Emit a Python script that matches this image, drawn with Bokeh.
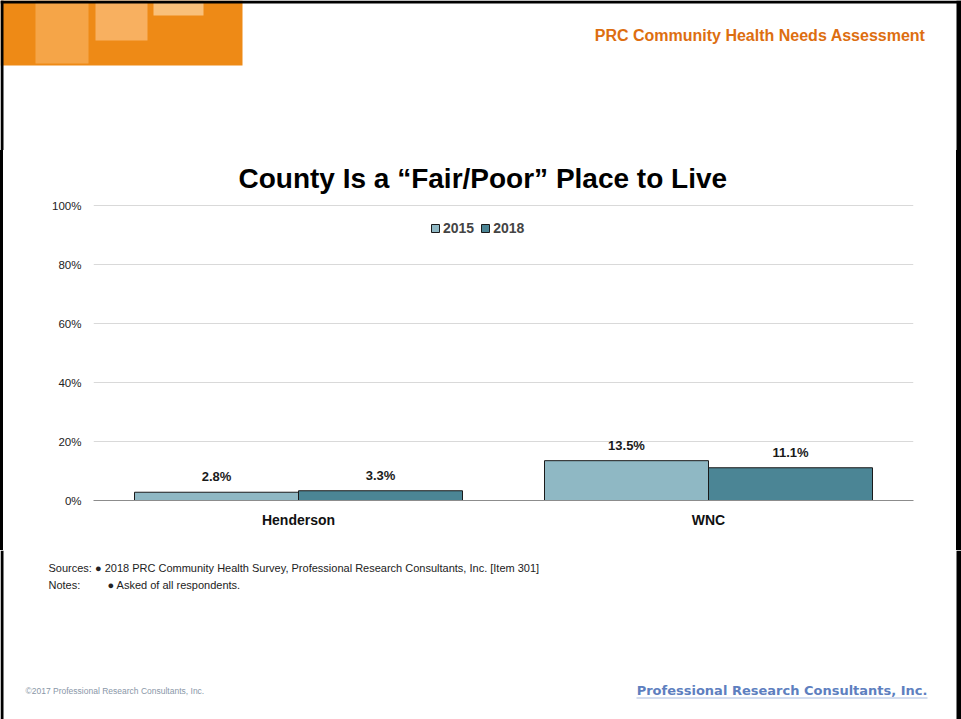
from bokeh.plotting import figure
from bokeh.layouts import column, row
from bokeh.models import (ColumnDataSource, LabelSet, Legend, LegendItem, Range1d,
                          FixedTicker, CustomJSTickFormatter)
from bokeh.core.properties import value
from bokeh.transform import dodge
from bokeh.embed import file_html
from bokeh.resources import INLINE

# ---- data ----
categories = ["Henderson", "WNC"]
series_names = ["2015", "2018"]
values_2015 = [2.8, 13.5]
values_2018 = [3.3, 11.1]
y_ticks = [0, 20, 40, 60, 80, 100]

title_text = "County Is a \u201cFair/Poor\u201d Place to Live"
header_text = "PRC Community Health Needs Assessment"
sources_text = "Sources: \u25cf 2018 PRC Community Health Survey, Professional Research Consultants, Inc. [Item 301]"
notes_label = "Notes:"
notes_text = "\u25cf Asked of all respondents."
footer_left = "\u00a92017 Professional Research Consultants, Inc."
footer_right = "Professional Research Consultants, Inc."

FONT = "Liberation Sans"
C2015 = "#8FB8C4"
C2018 = "#4B8595"
W = 961
H_TOP, H_CHART, H_BOT = 150, 400, 169
EDGE_L, EDGE_R = 3, 5


def decor_fig(w, h):
    f = figure(width=w, height=h, x_range=Range1d(0, w), y_range=Range1d(h, 0),
               output_backend="svg", toolbar_location=None, min_border=0,
               x_axis_location=None, y_axis_location=None)
    f.grid.visible = False
    f.outline_line_color = None
    f.background_fill_alpha = 0
    f.border_fill_alpha = 0
    return f


def edge_strip(w, h):
    f = decor_fig(w, h)
    f.background_fill_color = "#000000"
    f.background_fill_alpha = 1
    f.border_fill_color = "#000000"
    f.border_fill_alpha = 1
    return column(f)


# ---- header ----
top = decor_fig(W, H_TOP)
top.quad(left=[0, 35, 95, 153], right=[242, 88, 147, 203],
         top=[0, 0, 0, 0], bottom=[65, 63, 40, 15],
         fill_color=["#EE8A16", "#F5A548", "#F8B060", "#F9C07A"], line_color=None)
# page frame edges
top.quad(left=[0, 0, W - EDGE_R], right=[W, EDGE_L, W], top=[0, 0, 0],
         bottom=[3, H_TOP, H_TOP], fill_color="#000000", line_color=None)
top.text(x=[925], y=[35], text=[header_text], text_font=value(FONT),
         text_font_size="16px", text_font_style="bold", text_color="#DD6E10",
         text_align="right", text_baseline="middle")

# ---- chart ----
CW = W - EDGE_L - EDGE_R
p = figure(x_range=categories, y_range=(0, 100.34), width=CW, height=H_CHART,
           output_backend="svg", toolbar_location=None,
           min_border_left=93 - EDGE_L, min_border_right=(EDGE_L + CW) - 913,
           min_border_top=53, min_border_bottom=50)
p.background_fill_color = "white"
p.border_fill_alpha = 0
p.outline_line_color = None

p.title.text = title_text
p.title.align = "left"
p.title.offset = 145
p.title.text_font = FONT
p.title.text_font_size = "28px"
p.title.text_font_style = "bold"
p.title.text_color = "#000000"
p.title.standoff = 21

src = ColumnDataSource(dict(
    cat=categories, v15=values_2015, v18=values_2018,
    t15=[f"{v:.1f}%" for v in values_2015],
    t18=[f"{v:.1f}%" for v in values_2018],
))

r15 = p.vbar(x=dodge("cat", -0.2, range=p.x_range), top="v15", width=0.4, source=src,
             fill_color=C2015, line_color="#1a1a1a", line_width=1)
r18 = p.vbar(x=dodge("cat", 0.2, range=p.x_range), top="v18", width=0.4, source=src,
             fill_color=C2018, line_color="#1a1a1a", line_width=1)

for col, txt, dx in (("v15", "t15", -0.2), ("v18", "t18", 0.2)):
    p.add_layout(LabelSet(x=dodge("cat", dx, range=p.x_range), y=col, text=txt, source=src,
                          text_align="center", text_baseline="bottom", y_offset=8,
                          text_font=value(FONT), text_font_style="bold",
                          text_font_size="13px", text_color="#1a1a1a"))

p.yaxis.ticker = FixedTicker(ticks=y_ticks)
p.yaxis.formatter = CustomJSTickFormatter(code="return tick + '%'")
p.yaxis.axis_line_color = None
p.yaxis.major_tick_line_color = None
p.yaxis.major_tick_out = 0
p.yaxis.major_tick_in = 0
p.yaxis.minor_tick_line_color = None
p.yaxis.major_label_text_font = FONT
p.yaxis.major_label_text_font_size = "11.5px"
p.yaxis.major_label_text_color = "#222222"
p.yaxis.major_label_standoff = 12

p.xaxis.axis_line_color = "#8c8c8c"
p.xaxis.major_tick_line_color = None
p.xaxis.major_tick_out = 0
p.xaxis.major_tick_in = 0
p.xaxis.minor_tick_line_color = None
p.xaxis.major_label_text_font = FONT
p.xaxis.major_label_text_font_style = "bold"
p.xaxis.major_label_text_font_size = "14px"
p.xaxis.major_label_text_color = "#111111"
p.xaxis.major_label_standoff = 11

p.xgrid.grid_line_color = None
p.ygrid.grid_line_color = "#d9d9d9"

legend = Legend(items=[LegendItem(label=series_names[0], renderers=[r15]),
                       LegendItem(label=series_names[1], renderers=[r18])],
                orientation="horizontal", location=(337, 264),
                label_text_font=FONT, label_text_font_style="bold", label_text_font_size="14px",
                glyph_width=10, glyph_height=10, label_standoff=3, spacing=6,
                padding=0, margin=0, border_line_color=None, background_fill_alpha=0)
p.add_layout(legend, "center")

# ---- footer ----
bot = decor_fig(W, H_BOT)
bot.quad(left=[0, W - EDGE_R], right=[EDGE_L, W], top=[0, 0], bottom=[H_BOT, H_BOT],
         fill_color="#000000", line_color=None)
bot.text(x=[48, 48, 107], y=[17, 34, 34], text=[sources_text, notes_label, notes_text],
         text_font=value(FONT), text_font_size="11px", text_color="#222222",
         text_align="left", text_baseline="middle")
bot.text(x=[25], y=[140], text=[footer_left], text_font=value(FONT),
         text_font_size="8.5px", text_color="#8a97a8", text_align="left",
         text_baseline="middle")
bot.text(x=[927], y=[140], text=[footer_right], text_font=value("DejaVu Sans"),
         text_font_size="13px", text_font_style="bold", text_color="#5E7FBF",
         text_align="right", text_baseline="middle")
bot.quad(left=[636], right=[927], top=[147], bottom=[148], fill_color="#A9BCE0",
         line_color=None)

middle = row(edge_strip(EDGE_L, H_CHART), p, edge_strip(EDGE_R, H_CHART), spacing=0,
             styles={"box-shadow": "inset 3px 0 0 0 #000, inset -5px 0 0 0 #000"})
layout = column(row(top), middle, row(bot), spacing=0)
open("out.html", "w").write(file_html(layout, INLINE))
